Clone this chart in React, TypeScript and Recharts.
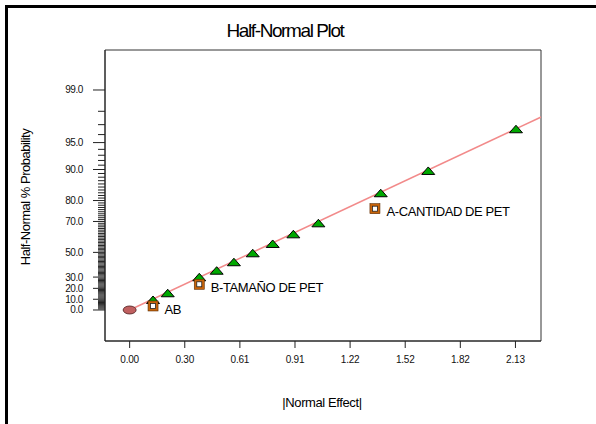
import React from "react";
import { ScatterChart, Scatter, XAxis, YAxis, ReferenceArea } from "recharts";

// |effect| and half-normal score of the error estimates (triangles)
const errorEffects = [0.129, 0.21, 0.384, 0.48, 0.575, 0.679, 0.789, 0.903, 1.041, 1.385, 1.647, 2.131];
const errorScores = [0.117, 0.196, 0.383, 0.46, 0.559, 0.664, 0.773, 0.886, 1.015, 1.367, 1.628, 2.116];

// selected model terms (squares)
const termNames = ["AB", "B-TAMAÑO DE PET", "A-CANTIDAD DE PET"];
const termEffects = [0.129, 0.384, 1.353];
const termScores = [0.047, 0.301, 1.186];

// origin marker
const originEffects = [0];
const originScores = [0];

// fitted reference line through the error estimates
const fitEffects = [0, 2.27];
const fitScores = [0, 2.26];

const xTicks = [0, 0.304, 0.608, 0.912, 1.216, 1.52, 1.824, 2.128];
const xTickLabels = ["0.00", "0.30", "0.61", "0.91", "1.22", "1.52", "1.82", "2.13"];

const majorProbs = [0, 10, 20, 30, 50, 70, 80, 90, 95, 99];
const majorProbLabels = ["0.0", "10.0", "20.0", "30.0", "50.0", "70.0", "80.0", "90.0", "95.0", "99.0"];
const minorProbs = Array.from({ length: 98 }, (_, i) => i + 1).filter((p) => !majorProbs.includes(p));

const FONT = "'Liberation Sans', Arial, sans-serif";

// Abramowitz & Stegun 7.1.26
function erf(v: number) {
  const s = Math.sign(v);
  const a = Math.abs(v);
  const t = 1 / (1 + 0.3275911 * a);
  const y =
    1 -
    ((((1.061405429 * t - 1.453152027) * t + 1.421413741) * t - 0.284496736) * t + 0.254829592) *
      t *
      Math.exp(-a * a);
  return s * y;
}

// z such that P(|Z| < z) = pct / 100, used to place the probability ticks
function halfNormalScore(pct: number) {
  const p = pct / 100;
  let lo = 0;
  let hi = 6;
  for (let i = 0; i < 60; i++) {
    const mid = (lo + hi) / 2;
    if (erf(mid / Math.SQRT2) < p) lo = mid;
    else hi = mid;
  }
  return (lo + hi) / 2;
}

const yTickList = [
  ...majorProbs.map((p, i) => ({ z: halfNormalScore(p), major: true, label: majorProbLabels[i] })),
  ...minorProbs.map((p) => ({ z: halfNormalScore(p), major: false, label: "" })),
];

const errorData = errorEffects.map((x, i) => ({ effect: x, score: errorScores[i] }));
const termData = termEffects.map((x, i) => ({ effect: x, score: termScores[i], name: termNames[i] }));
const originData = originEffects.map((x, i) => ({ effect: x, score: originScores[i] }));
const fitData = fitEffects.map((x, i) => ({ effect: x, score: fitScores[i] }));

const X_DOMAIN: [number, number] = [-0.136, 2.269];
const Y_DOMAIN: [number, number] = [-0.363, 3.044];

function ProbTick(props: any) {
  const { x, y, payload } = props;
  const t = yTickList.find((d) => Math.abs(d.z - payload.value) < 1e-9);
  if (!t) return null;
  const len = t.major ? 12 : 7;
  return (
    <g>
      <line x1={x - len} x2={x} y1={y} y2={y} stroke="#222" strokeWidth={1} />
      {t.major && (
        <text
          x={x - 22}
          y={y}
          dy={3.5}
          textAnchor="end"
          fontSize={10}
          fontFamily={FONT}
          letterSpacing={-0.4}
          fill="#111"
        >
          {t.label}
        </text>
      )}
    </g>
  );
}

function Triangle(props: any) {
  const { cx, cy } = props;
  return (
    <polygon
      points={`${cx - 6.5},${cy + 3.5} ${cx + 6.5},${cy + 3.5} ${cx},${cy - 4}`}
      fill="#00a800"
      stroke="#000"
      strokeWidth={1}
    />
  );
}

function TermSquare(props: any) {
  const { cx, cy, payload } = props;
  return (
    <g>
      <rect x={cx - 5} y={cy - 5} width={10} height={10} fill="#c8640a" stroke="#5a2a00" strokeWidth={0.6} />
      <rect x={cx - 2.5} y={cy - 2.5} width={5} height={5} fill="#fff" stroke="#222" strokeWidth={0.8} />
      <text
        x={cx + 11.5}
        y={cy + 7.8}
        fontSize={13}
        fontFamily={FONT}
        letterSpacing={-0.4}
        fill="#000"
      >
        {payload.name}
      </text>
    </g>
  );
}

function OriginDot(props: any) {
  const { cx, cy } = props;
  return <ellipse cx={cx} cy={cy} rx={6.5} ry={4} fill="#c06060" stroke="#4a1a1a" strokeWidth={0.8} />;
}

export default function App() {
  return (
    <div
      style={{
        position: "absolute",
        left: 0,
        top: 0,
        width: 596,
        height: 424,
        overflow: "hidden",
        background: "#fff",
      }}
    >
      <div
        style={{
          position: "absolute",
          left: 5,
          top: 5,
          width: 620,
          height: 440,
          borderTop: "3px solid #000",
          borderLeft: "3px solid #000",
        }}
      />
      <div style={{ position: "absolute", left: 0, top: 0 }}>
        <ScatterChart width={596} height={424} margin={{ top: 50, right: 55, bottom: 43, left: 0 }}>
          <XAxis
            type="number"
            dataKey="effect"
            domain={X_DOMAIN}
            allowDataOverflow
            ticks={xTicks}
            interval={0}
            tickFormatter={(v: number) => {
              const i = xTicks.findIndex((t) => Math.abs(t - v) < 1e-9);
              return i >= 0 ? xTickLabels[i] : "";
            }}
            tickSize={7}
            tickMargin={8}
            height={40}
            stroke="#222"
            tick={{ fontSize: 10, fontFamily: FONT, fill: "#111", letterSpacing: -0.2 }}
          />
          <YAxis
            type="number"
            dataKey="score"
            domain={Y_DOMAIN}
            allowDataOverflow
            ticks={yTickList.map((t) => t.z)}
            interval={0}
            tickSize={0}
            tickMargin={0}
            tickLine={false}
            width={105}
            stroke="#222"
            tick={<ProbTick />}
          />
          <ReferenceArea
            x1={X_DOMAIN[0]}
            x2={X_DOMAIN[1]}
            y1={Y_DOMAIN[0]}
            y2={Y_DOMAIN[1]}
            fill="none"
            stroke="#333"
            strokeWidth={1}
            ifOverflow="visible"
          />
          <Scatter
            data={fitData}
            line={{ stroke: "#f28a8a", strokeWidth: 1.5 }}
            shape={() => <g />}
            isAnimationActive={false}
          />
          <Scatter data={originData} shape={<OriginDot />} isAnimationActive={false} />
          <Scatter data={errorData} shape={<Triangle />} isAnimationActive={false} />
          <Scatter data={termData} shape={<TermSquare />} isAnimationActive={false} />
        </ScatterChart>
      </div>
      <svg
        width={596}
        height={424}
        style={{ position: "absolute", left: 0, top: 0, pointerEvents: "none" }}
      >
        <text x={285} y={37} textAnchor="middle" fontSize={19} fontFamily={FONT} letterSpacing={-1.4} fill="#000">
          Half-Normal Plot
        </text>
        <text
          transform="translate(30,197) rotate(-90)"
          textAnchor="middle"
          fontSize={13}
          fontFamily={FONT}
          letterSpacing={-0.5}
          fill="#000"
        >
          Half-Normal % Probability
        </text>
        <text x={322} y={407} textAnchor="middle" fontSize={13} fontFamily={FONT} letterSpacing={-0.4} fill="#000">
          |Normal Effect|
        </text>
      </svg>
    </div>
  );
}
